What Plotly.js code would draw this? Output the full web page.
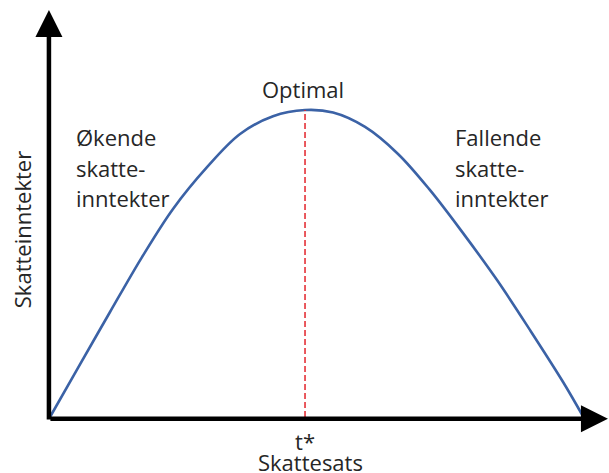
<!DOCTYPE html>
<html>
<head>
<meta charset="utf-8">
<script src="https://cdn.plot.ly/plotly-3.0.1.min.js"></script>
<style>html,body{margin:0;padding:0;background:#fff;}#chart{width:609px;height:473px;}</style>
</head>
<body>
<div id="chart"></div>
<script>
// Laffer curve
const taxRate = [0, 5.25, 11.25, 17.25, 23.06, 29.44, 35.63, 41.81, 47.81, 53.07, 59.07, 65.25, 71.25, 77.44, 83.81, 90.0, 96.19, 100];
const revenue = [0, 16.0, 34.2, 52.1, 67.8, 81.4, 92.2, 98.0, 100, 99.2, 94.5, 85.7, 73.9, 59.9, 44.6, 28.3, 11.4, 0];
const optimalRate = 47.81;
const optimalRevenue = 100;
const tickLabels = ['t*'];
const xTitle = 'Skattesats';
const yTitle = 'Skatteinntekter';
const leftLabel = ['Økende', 'skatte-', 'inntekter'];
const rightLabel = ['Fallende', 'skatte-', 'inntekter'];
const labelRows = [91.2, 81.1, 71.3];

const FONT = '"Open Sans", "Noto Sans", sans-serif';
const TXT = '#262626';

const traces = [
  {x: taxRate, y: revenue, type: 'scatter', mode: 'lines',
   line: {color: '#3b62a6', width: 2.6, shape: 'spline', smoothing: 1}, hoverinfo: 'skip'},
  {x: [optimalRate, optimalRate], y: [0, optimalRevenue], type: 'scatter', mode: 'lines',
   line: {color: '#e3242b', width: 1.5, dash: '6px,3px'}, hoverinfo: 'skip'}
];

const annotations = [];
// axis arrows
annotations.push({x: 104.6, y: -0.6, ax: -0.2, ay: -0.6, axref: 'x', ayref: 'y', xref: 'x', yref: 'y',
  text: '', showarrow: true, arrowhead: 2, arrowsize: 1.2, arrowwidth: 4.5, arrowcolor: '#000', standoff: 0, startstandoff: 0});
annotations.push({x: -0.2, y: 132.6, ax: -0.2, ay: -1.3, axref: 'x', ayref: 'y', xref: 'x', yref: 'y',
  text: '', showarrow: true, arrowhead: 2, arrowsize: 1.2, arrowwidth: 4.5, arrowcolor: '#000', standoff: 0, startstandoff: 0});
annotations.push({x: optimalRate - 0.4, y: 106.8, xref: 'x', yref: 'y', text: 'Optimal', showarrow: false,
  xanchor: 'center', yanchor: 'middle', font: {family: FONT, size: 22, color: TXT}});
leftLabel.forEach((t, i) => annotations.push({x: 4.5, y: labelRows[i], xref: 'x', yref: 'y', text: t, showarrow: false,
  xanchor: 'left', yanchor: 'middle', font: {family: FONT, size: 22, color: TXT}}));
rightLabel.forEach((t, i) => annotations.push({x: 75.5, y: labelRows[i], xref: 'x', yref: 'y', text: t, showarrow: false,
  xanchor: 'left', yanchor: 'middle', font: {family: FONT, size: 22, color: TXT}}));
// axis titles
annotations.push({x: 48.75, y: -0.085, xref: 'x', yref: 'paper', text: xTitle, showarrow: false,
  xanchor: 'center', yanchor: 'middle', font: {family: FONT, size: 22, color: TXT}});
annotations.push({x: -0.0316, y: 0.472, xref: 'paper', yref: 'paper', text: yTitle, showarrow: false, textangle: -90,
  xanchor: 'center', yanchor: 'middle', font: {family: FONT, size: 22, color: TXT}});

const layout = {
  width: 609, height: 473,
  margin: {l: 40, r: 0, t: 10, b: 46},
  paper_bgcolor: '#fff', plot_bgcolor: '#fff',
  showlegend: false,
  font: {family: FONT, size: 22, color: TXT},
  xaxis: {range: [-1.875, 104.8], showgrid: false, zeroline: false, showline: false,
    tickvals: [optimalRate], ticktext: tickLabels, ticks: '', ticklen: 0,
    tickfont: {family: FONT, size: 22, color: TXT}},
  yaxis: {range: [-3.26, 132.6], showgrid: false, zeroline: false, showline: false,
    showticklabels: false, ticks: ''},
  annotations: annotations
};

Plotly.newPlot('chart', traces, layout, {displayModeBar: false, staticPlot: true});
</script>
</body>
</html>
